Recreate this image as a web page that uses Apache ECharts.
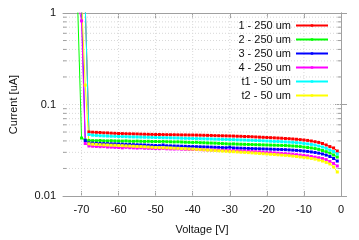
<!DOCTYPE html>
<html>
<head>
<meta charset="utf-8">
<script src="https://cdn.jsdelivr.net/npm/echarts@6/dist/echarts.min.js"></script>
<style>html,body{margin:0;padding:0;background:#fff;}#c{width:359px;height:240px;}</style>
</head>
<body>
<div id="c"></div>
<script>
const volts = [-71,-70,-69,-68,-67,-66,-65,-64,-63,-62,-61,-60,-59,-58,-57,-56,-55,-54,-53,-52,-51,-50,-49,-48,-47,-46,-45,-44,-43,-42,-41,-40,-39,-38,-37,-36,-35,-34,-33,-32,-31,-30,-29,-28,-27,-26,-25,-24,-23,-22,-21,-20,-19,-18,-17,-16,-15,-14,-13,-12,-11,-10,-9,-8,-7,-6,-5,-4,-3,-2,-1];

const s1 = [null,null,1.2,
 0.0501,0.0498,0.0496,0.0494,0.0490,0.0489,0.0486,0.0484,
 0.0482,0.0481,0.0479,0.0478,0.0477,0.0476,0.0474,0.0473,0.0472,0.0471,
 0.0470,0.0470,0.0469,0.0468,0.0467,0.0467,0.0466,0.0465,0.0465,0.0464,
 0.0464,0.0463,0.0462,0.0461,0.0460,0.0459,0.0457,0.0456,0.0455,0.0454,
 0.0453,0.0452,0.0450,0.0449,0.0447,0.0446,0.0444,0.0442,0.0440,0.0438,
 0.0436,0.0434,0.0432,0.0430,0.0428,0.0425,0.0423,0.0420,0.0417,0.0413,
 0.0409,0.0405,0.0399,0.0392,0.0385,0.0375,0.0361,0.0347,0.0335,0.0310];
const s2 = [1.05,0.0430,0.0410,
 0.0405,0.0403,0.0402,0.0404,0.0401,0.0400,0.0402,0.0400,
 0.0399,0.0398,0.0400,0.0397,0.0396,0.0398,0.0396,0.0395,0.0396,0.0394,
 0.0394,0.0393,0.0395,0.0392,0.0391,0.0390,0.0391,0.0389,0.0387,0.0386,
 0.0385,0.0386,0.0383,0.0382,0.0380,0.0379,0.0378,0.0376,0.0374,0.0372,
 0.0370,0.0371,0.0369,0.0368,0.0367,0.0366,0.0365,0.0364,0.0363,0.0362,
 0.0361,0.0360,0.0359,0.0358,0.0357,0.0356,0.0354,0.0352,0.0350,0.0347,
 0.0343,0.0339,0.0335,0.0330,0.0323,0.0314,0.0305,0.0295,0.0281,0.0267];
const s3 = [null,1.2,0.0404,
 0.0380,0.0378,0.0376,0.0375,0.0374,0.0373,0.0372,0.0371,
 0.0370,0.0368,0.0367,0.0366,0.0364,0.0363,0.0362,0.0361,0.0359,0.0358,
 0.0356,0.0355,0.0361,0.0354,0.0353,0.0352,0.0351,0.0350,0.0349,0.0348,
 0.0347,0.0346,0.0345,0.0344,0.0343,0.0342,0.0341,0.0340,0.0338,0.0337,
 0.0341,0.0335,0.0334,0.0333,0.0332,0.0331,0.0330,0.0329,0.0328,0.0327,
 0.0326,0.0325,0.0324,0.0323,0.0322,0.0321,0.0319,0.0317,0.0315,0.0313,
 0.0310,0.0307,0.0303,0.0299,0.0294,0.0288,0.0280,0.0270,0.0257,0.0241];
const s4 = [1.3,0.82,0.0375,
 0.0352,0.0350,0.0348,0.0346,0.0347,0.0343,0.0342,0.0340,
 0.0339,0.0336,0.0340,0.0337,0.0336,0.0334,0.0336,0.0333,0.0332,0.0331,
 0.0330,0.0329,0.0331,0.0328,0.0327,0.0326,0.0327,0.0325,0.0324,0.0323,
 0.0322,0.0322,0.0321,0.0320,0.0319,0.0318,0.0318,0.0317,0.0316,0.0315,
 0.0314,0.0313,0.0312,0.0311,0.0310,0.0308,0.0307,0.0305,0.0303,0.0301,
 0.0299,0.0298,0.0296,0.0294,0.0292,0.0290,0.0288,0.0286,0.0283,0.0280,
 0.0277,0.0274,0.0270,0.0266,0.0262,0.0257,0.0250,0.0238,0.0227,0.0213];
const s5 = [null,null,1.2,
 0.0470,0.0462,0.0459,0.0456,0.0454,0.0452,0.0450,0.0449,
 0.0447,0.0446,0.0445,0.0443,0.0442,0.0441,0.0440,0.0439,0.0438,0.0437,
 0.0436,0.0435,0.0434,0.0433,0.0432,0.0431,0.0430,0.0428,0.0427,0.0426,
 0.0425,0.0424,0.0423,0.0422,0.0421,0.0420,0.0418,0.0417,0.0416,0.0415,
 0.0414,0.0413,0.0411,0.0410,0.0409,0.0407,0.0406,0.0404,0.0403,0.0401,
 0.0399,0.0397,0.0395,0.0394,0.0392,0.0390,0.0388,0.0386,0.0383,0.0380,
 0.0375,0.0371,0.0366,0.0360,0.0352,0.0343,0.0332,0.0318,0.0306,0.0288];
const s6 = [null,1.4,0.163,
 0.0372,0.0368,0.0366,0.0364,0.0362,0.0361,0.0359,0.0358,
 0.0356,0.0355,0.0353,0.0352,0.0350,0.0348,0.0347,0.0345,0.0343,0.0341,
 0.0339,0.0338,0.0337,0.0336,0.0335,0.0333,0.0332,0.0330,0.0329,0.0327,
 0.0326,0.0324,0.0322,0.0320,0.0318,0.0316,0.0314,0.0312,0.0310,0.0308,
 0.0306,0.0305,0.0303,0.0301,0.0300,0.0298,0.0296,0.0294,0.0292,0.0290,
 0.0288,0.0286,0.0284,0.0282,0.0280,0.0278,0.0276,0.0273,0.0270,0.0267,
 0.0264,0.0261,0.0257,0.0253,0.0247,0.0241,0.0233,0.0224,0.0208,0.0183];

const seriesNames = ['1 - 250 um','2 - 250 um','3 - 250 um','4 - 250 um','t1 - 50 um','t2 - 50 um'];
const seriesColors = ['#ff0000','#00ff00','#0000ff','#ff00ff','#00ffff','#ffff00'];
const seriesValues = [s1,s2,s3,s4,s5,s6];

const xTicks = [-70,-60,-50,-40,-30,-20,-10,0];
const xGrid = [-70,-60,-50,-40,-30,-20,-10];
const yMajorGrid = [0.1];
const yMinor = [0.02,0.03,0.04,0.05,0.06,0.07,0.08,0.09,0.2,0.3,0.4,0.5,0.6,0.7,0.8,0.9];
const X_MIN = -75, X_MAX = 0, Y_MIN = 0.01, Y_MAX = 1;

const axisColor = '#a0a0a0';
const gridColor = '#d8d8d8';
const font = 'Liberation Sans, Arial, sans-serif';

const chart = echarts.init(document.getElementById('c'), null, {renderer: 'canvas'});

const gridSeries = {
  type: 'custom',
  silent: true,
  z: 1,
  clip: false,
  data: yMinor.map(v => [X_MIN, v, 1]).concat(yMajorGrid.map(v => [X_MIN, v, 0])).concat(xGrid.map(v => [v, Y_MIN, 2])),
  renderItem: function (params, api) {
    const kind = api.value(2);
    const dash = [1, 2];
    if (kind === 2) {
      const a = api.coord([api.value(0), Y_MIN]);
      const b = api.coord([api.value(0), Y_MAX]);
      return {type: 'line', shape: {x1: a[0], y1: a[1], x2: b[0], y2: b[1]},
        style: {stroke: gridColor, lineWidth: 1, lineDash: dash}};
    }
    const v = api.value(1);
    const a = api.coord([X_MIN, v]);
    const b = api.coord([X_MAX, v]);
    const children = [{type: 'line', shape: {x1: a[0], y1: a[1], x2: b[0], y2: b[1]},
      style: {stroke: gridColor, lineWidth: 1, lineDash: dash}}];
    if (kind === 1) {
      children.push({type: 'line', shape: {x1: a[0], y1: a[1], x2: a[0] + 3.5, y2: a[1]}, style: {stroke: axisColor, lineWidth: 1}});
      children.push({type: 'line', shape: {x1: b[0] - 3.5, y1: b[1], x2: b[0], y2: b[1]}, style: {stroke: axisColor, lineWidth: 1}});
    }
    return {type: 'group', children: children};
  }
};

const dataSeries = seriesNames.map((name, k) => ({
  name: name,
  type: 'line',
  z: 3,
  data: volts.map((v, i) => [v, seriesValues[k][i]]),
  symbol: 'rect',
  symbolSize: 3,
  showSymbol: true,
  connectNulls: false,
  clip: true,
  itemStyle: {color: seriesColors[k]},
  lineStyle: {color: seriesColors[k], width: 1},
  emphasis: {disabled: true}
}));

chart.setOption({
  animation: false,
  backgroundColor: '#ffffff',
  textStyle: {fontFamily: font},
  grid: {left: 60, right: 18, top: 13, bottom: 44, containLabel: false},
  legend: {
    data: seriesNames,
    orient: 'vertical',
    align: 'right',
    right: 30,
    top: 19,
    padding: 0,
    itemWidth: 32,
    itemHeight: 3,
    itemGap: 1,
    textStyle: {fontSize: 11, color: '#111', fontFamily: font, lineHeight: 13},
    selectedMode: false
  },
  xAxis: [{
    type: 'value', min: X_MIN, max: X_MAX, interval: 5, position: 'bottom',
    axisLine: {show: true, lineStyle: {color: axisColor, width: 1}},
    axisTick: {show: true, inside: true, length: 5, customValues: xTicks, lineStyle: {color: axisColor}},
    axisLabel: {show: true, customValues: xTicks, margin: 8, fontSize: 11, color: '#111', fontFamily: font},
    splitLine: {show: false},
    name: 'Voltage [V]', nameLocation: 'middle', nameGap: 28,
    nameTextStyle: {fontSize: 11, color: '#111', fontFamily: font}
  }, {
    type: 'value', min: X_MIN, max: X_MAX, interval: 5, position: 'top',
    axisLine: {show: true, lineStyle: {color: axisColor, width: 1}},
    axisTick: {show: true, inside: true, length: 5, customValues: xTicks, lineStyle: {color: axisColor}},
    axisLabel: {show: false},
    splitLine: {show: false}
  }],
  yAxis: [{
    type: 'log', logBase: 10, min: Y_MIN, max: Y_MAX, position: 'left',
    axisLine: {show: true, lineStyle: {color: axisColor, width: 1}},
    axisTick: {show: true, inside: true, length: 6, lineStyle: {color: axisColor}},
    axisLabel: {show: true, margin: 7, fontSize: 11, color: '#111', fontFamily: font,
      formatter: function (v) { return String(v); }},
    splitLine: {show: false},
    minorTick: {show: false},
    name: 'Current [uA]', nameLocation: 'middle', nameGap: 44,
    nameTextStyle: {fontSize: 11, color: '#111', fontFamily: font}
  }, {
    type: 'log', logBase: 10, min: Y_MIN, max: Y_MAX, position: 'right',
    axisLine: {show: true, lineStyle: {color: axisColor, width: 1}},
    axisTick: {show: true, inside: true, length: 6, lineStyle: {color: axisColor}},
    axisLabel: {show: false},
    splitLine: {show: false}
  }],
  series: [gridSeries].concat(dataSeries)
});
</script>
</body>
</html>
